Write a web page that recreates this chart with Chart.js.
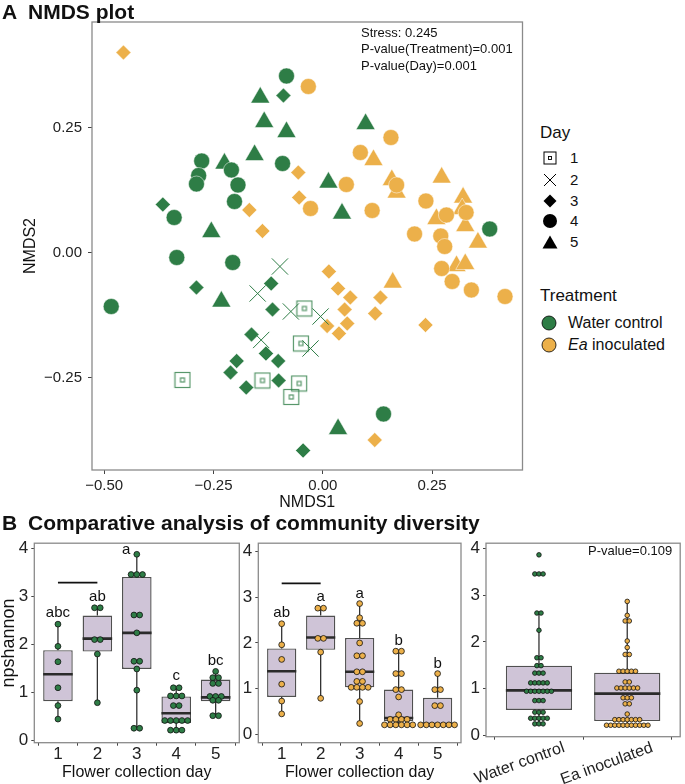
<!DOCTYPE html>
<html>
<head>
<meta charset="utf-8">
<script src="https://cdn.jsdelivr.net/npm/chart.js@4.4.1/dist/chart.umd.min.js"></script>
<style>
  body { margin: 0; width: 685px; height: 784px; position: relative; background: #fff; overflow: hidden;
         font-family: 'Liberation Sans', Arial, Helvetica, sans-serif; color: #111; }
  canvas { position: absolute; }
  .t { position: absolute; white-space: nowrap; }
  .b { font-weight: bold; font-size: 21px; line-height: 22px; }
</style>
</head>
<body>
<canvas id="nmds" width="535" height="515" style="left:0;top:0"></canvas>
<canvas id="water" width="245" height="254" style="left:0;top:530px"></canvas>
<canvas id="ea" width="228" height="254" style="left:238px;top:530px"></canvas>
<canvas id="both" width="265" height="254" style="left:420px;top:530px"></canvas>

<div class="t b" style="left:2px;top:1px">A</div>
<div class="t b" style="left:28px;top:1px">NMDS plot</div>
<div class="t b" style="left:2px;top:512px">B</div>
<div class="t b" style="left:28px;top:512px">Comparative analysis of community diversity</div>

<div class="t" style="left:361px;top:25px;font-size:13px;line-height:16px">Stress: 0.245</div>
<div class="t" style="left:361px;top:41px;font-size:13px;line-height:16px">P-value(Treatment)=0.001</div>
<div class="t" style="left:361px;top:58px;font-size:13px;line-height:16px">P-value(Day)=0.001</div>

<div id="legend"></div>
<div class="t" style="left:588px;top:543px;font-size:13px;line-height:16px">P-value=0.109</div>

<script>
// ---- panel A: NMDS coordinates [NMDS1, NMDS2] ----
const waterDay1 = [[-0.042,-0.112],[-0.050,-0.182],[-0.321,-0.255],[-0.138,-0.256],[-0.054,-0.262],[-0.072,-0.289]];
const waterDay2 = [[-0.098,-0.028],[-0.149,-0.082],[-0.073,-0.118],[-0.005,-0.128],[-0.141,-0.175],[-0.028,-0.192]];
const waterDay3 = [[-0.090,0.314],[-0.366,0.096],[-0.289,-0.070],[-0.118,-0.062],[-0.115,-0.114],[-0.163,-0.164],
  [-0.130,-0.202],[-0.102,-0.217],[-0.197,-0.217],[-0.211,-0.240],[-0.101,-0.256],[-0.175,-0.270],[-0.045,-0.396]];
const waterDay4 = [[-0.083,0.353],[-0.277,0.183],[-0.209,0.165],[-0.092,0.178],[-0.284,0.154],[-0.289,0.137],
  [-0.194,0.135],[-0.202,0.102],[-0.340,0.070],[-0.334,-0.010],[-0.206,-0.020],[-0.484,-0.108],[0.382,0.047],[0.139,-0.323]];
const waterDay5 = [[-0.143,0.310],[-0.134,0.261],[-0.083,0.241],[-0.156,0.195],[-0.225,0.178],[0.098,0.257],
  [0.013,0.140],[0.044,0.078],[-0.255,0.041],[-0.232,-0.098],[0.035,-0.353]];
const eaDay3 = [[-0.456,0.400],[-0.056,0.160],[-0.054,0.110],[-0.168,0.085],[-0.138,0.043],[0.014,-0.038],
  [0.035,-0.072],[0.063,-0.090],[0.050,-0.114],[0.132,-0.090],[0.120,-0.122],[0.010,-0.147],[0.056,-0.142],
  [0.037,-0.162],[0.235,-0.145],[0.119,-0.375]];
const eaDay4 = [[-0.033,0.332],[0.156,0.230],[0.086,0.200],[0.054,0.136],[-0.028,0.088],[0.113,0.084],[0.169,0.135],
  [0.236,0.103],[0.283,0.075],[0.328,0.080],[0.210,0.037],[0.270,0.033],[0.279,0.012],[0.272,-0.032],
  [0.296,-0.058],[0.340,-0.075],[0.417,-0.088]];
const eaDay5 = [[0.116,0.185],[0.158,0.145],[0.169,0.120],[0.272,0.150],[0.321,0.110],[0.319,0.087],[0.260,0.067],
  [0.326,0.053],[0.355,0.020],[0.306,-0.027],[0.326,-0.023],[0.160,-0.060]];
const nmdsXTicks = [-0.5, -0.25, 0, 0.25];
const nmdsYTicks = [-0.25, 0, 0.25];

// ---- panel B: npshannon by day ----
const days = ['1', '2', '3', '4', '5'];
const waterQ1  = [0.82, 1.85, 1.49, 0.37, 0.82];
const waterMed = [1.38, 2.12, 2.24, 0.57, 0.90];
const waterQ3  = [1.88, 2.60, 3.40, 0.92, 1.27];
const waterLo  = [0.45, 0.79, 0.26, 0.22, 0.52];
const waterHi  = [2.42, 2.76, 3.87, 1.10, 1.44];
const waterDots = [
  [2.42, 1.96, 1.64, 1.10, 0.73, 0.45],
  [2.76, 2.76, 2.10, 2.10, 1.80, 0.79],
  [3.87, 3.45, 3.45, 3.45, 2.61, 2.61, 2.24, 1.65, 1.65, 1.49, 1.05, 0.26, 0.26],
  [1.10, 1.10, 0.93, 0.93, 0.93, 0.73, 0.73, 0.42, 0.42, 0.42, 0.42, 0.42, 0.22, 0.22, 0.22],
  [1.44, 1.31, 1.31, 1.19, 1.19, 0.92, 0.92, 0.92, 0.84, 0.84, 0.52, 0.52]
];
const waterLetters = ['abc', 'ab', 'a', 'c', 'bc'];
const waterLetterX = [1, 2, 2.73, 4, 5];
const waterLetterY = [2.65, 2.99, 3.96, 1.34, 1.66];

const eaQ1  = [0.82, 1.85, 1.03, 0.29, 0.22];
const eaMed = [1.38, 2.12, 1.37, 0.36, 0.22];
const eaQ3  = [1.88, 2.60, 2.11, 0.98, 0.80];
const eaLo  = [0.45, 0.79, 0.24, 0.22, 0.22];
const eaHi  = [2.42, 2.76, 2.86, 1.82, 1.33];
const eaDots = [
  [2.42, 1.96, 1.64, 1.10, 0.73, 0.45],
  [2.76, 2.76, 2.10, 2.10, 1.80, 0.79],
  [2.86, 2.55, 2.43, 2.43, 2.00, 1.72, 1.72, 1.37, 1.37, 1.16, 1.16, 1.03, 1.03, 1.03, 1.03, 0.72, 0.24],
  [1.82, 1.82, 1.33, 1.33, 0.98, 0.98, 0.82, 0.43, 0.33, 0.33, 0.33, 0.33, 0.21, 0.21, 0.21, 0.21, 0.21, 0.21],
  [1.33, 0.98, 0.98, 0.63, 0.63, 0.21, 0.21, 0.21, 0.21, 0.21, 0.21, 0.21]
];
const eaLetters = ['ab', 'a', 'a', 'b', 'b'];
const eaLetterX = [1, 2, 3, 4, 5];
const eaLetterY = [2.65, 3.01, 3.08, 2.05, 1.55];
const sigLineY = [3.28, 3.30];   // bar over day 1-2, water / Ea

// ---- panel B: all days pooled ----
const treatments = ['Water control', 'Ea inoculated'];
const poolQ1  = [0.54, 0.30];
const poolMed = [0.96, 0.89];
const poolQ3  = [1.49, 1.34];
const poolLo  = [0.23, 0.21];
const poolHi  = [2.62, 2.87];
const poolDots = [
  [3.87, 3.46, 3.46, 3.46, 2.62, 2.62, 2.25, 1.66, 1.66, 1.49, 1.49, 1.33, 1.33, 1.33,
   1.12, 1.12, 1.12, 1.12, 1.12, 0.94, 0.94, 0.94, 0.94, 0.94, 0.94, 0.94, 0.74, 0.74, 0.74,
   0.49, 0.49, 0.49, 0.36, 0.36, 0.36, 0.36, 0.36, 0.24, 0.24, 0.24],
  [2.87, 2.57, 2.45, 2.45, 2.02, 1.88, 1.73, 1.73, 1.37, 1.37, 1.37, 1.37, 1.37, 1.14, 1.14,
   1.01, 1.01, 1.01, 1.01, 1.01, 1.01, 0.80, 0.80, 0.80, 0.67, 0.67, 0.45,
   0.33, 0.33, 0.33, 0.33, 0.33, 0.33, 0.33, 0.21, 0.21, 0.21, 0.21, 0.21, 0.21, 0.21, 0.21, 0.21, 0.21, 0.21]
];

const GREEN = '#2e7d46';
const ORANGE = '#ecb04a';
const FONT = "'Liberation Sans', Arial, Helvetica, sans-serif";

Chart.defaults.font.family = FONT;
Chart.defaults.color = '#1a1a1a';
Chart.defaults.animation = false;
Chart.defaults.responsive = false;
Chart.defaults.plugins.legend.display = false;
Chart.defaults.plugins.tooltip.enabled = false;

// grey panel border
const frame = {
  id: 'frame',
  afterDraw(chart) {
    const {ctx, chartArea: a} = chart;
    ctx.save();
    ctx.strokeStyle = '#8a8a8a';
    ctx.lineWidth = 1.3;
    ctx.strokeRect(a.left, a.top, a.right - a.left, a.bottom - a.top);
    ctx.restore();
  }
};

// significance letters above the boxes
const letters = {
  id: 'letters',
  afterDatasetsDraw(chart, args, opts) {
    if (!opts.text) return;
    const {ctx, scales: {x, y}} = chart;
    ctx.save();
    ctx.font = '15px ' + FONT;
    ctx.fillStyle = '#111';
    ctx.textAlign = 'center';
    ctx.textBaseline = 'middle';
    opts.text.forEach((t, i) => ctx.fillText(t, x.getPixelForValue(opts.x[i]), y.getPixelForValue(opts.y[i])));
    ctx.restore();
  }
};

function toXY(arr) { return arr.map(p => ({x: p[0], y: p[1]})); }

function squareIcon(color) {
  const c = document.createElement('canvas');
  c.width = c.height = 18;
  const g = c.getContext('2d');
  g.strokeStyle = color;
  g.lineWidth = 1.2;
  g.strokeRect(1.5, 1.5, 15, 15);
  g.strokeRect(7, 7, 4, 4);
  return c;
}

const fmt = v => (v < 0 ? '\u2212' : '') + Math.abs(v).toFixed(2);

new Chart(document.getElementById('nmds'), {
  type: 'scatter',
  data: {
    datasets: [
      {data: toXY(waterDay1), pointStyle: squareIcon('rgba(46,125,70,0.8)')},
      {data: toXY(waterDay2), pointStyle: 'crossRot', pointRadius: 11.5, borderColor: GREEN, borderWidth: 1},
      {data: toXY(eaDay3), pointStyle: 'rectRot', pointRadius: 7.5, backgroundColor: ORANGE, borderColor: '#fff', borderWidth: 0.5},
      {data: toXY(waterDay3), pointStyle: 'rectRot', pointRadius: 7.5, backgroundColor: GREEN, borderColor: '#fff', borderWidth: 0.5},
      {data: toXY(eaDay4), pointStyle: 'circle', pointRadius: 8, backgroundColor: ORANGE, borderColor: '#fff', borderWidth: 0.5},
      {data: toXY(waterDay4), pointStyle: 'circle', pointRadius: 8, backgroundColor: GREEN, borderColor: '#fff', borderWidth: 0.5},
      {data: toXY(eaDay5), pointStyle: 'triangle', pointRadius: 11, backgroundColor: ORANGE, borderColor: '#fff', borderWidth: 0.5},
      {data: toXY(waterDay5), pointStyle: 'triangle', pointRadius: 11, backgroundColor: GREEN, borderColor: '#fff', borderWidth: 0.5}
    ]
  },
  options: {
    layout: {padding: {top: 22, right: 10, left: 0, bottom: 0}},
    scales: {
      x: {
        type: 'linear', min: -0.528, max: 0.457,
        afterBuildTicks: s => { s.ticks = nmdsXTicks.map(v => ({value: v})); },
        afterFit: s => { s.height = 45; },
        ticks: {callback: fmt, font: {size: 15}, color: '#222', padding: 3},
        grid: {drawOnChartArea: false, tickLength: 4, tickColor: '#444'},
        border: {display: false},
        title: {display: true, text: 'NMDS1', font: {size: 16}, color: '#111', padding: {top: 0, bottom: 3}}
      },
      y: {
        type: 'linear', min: -0.435, max: 0.461,
        afterBuildTicks: s => { s.ticks = nmdsYTicks.map(v => ({value: v})); },
        afterFit: s => { s.width = 92; },
        ticks: {callback: fmt, font: {size: 15}, color: '#222', padding: 6},
        grid: {drawOnChartArea: false, tickLength: 4, tickColor: '#444'},
        border: {display: false},
        title: {display: true, text: 'NMDS2', font: {size: 16}, color: '#111', padding: {top: 21, bottom: 0}}
      }
    }
  },
  plugins: [frame]
});

// centred dot stacks: equal values are spread sideways
function dotPoints(groups, step) {
  const pts = [];
  groups.forEach((vals, i) => {
    const counts = new Map();
    vals.forEach(v => counts.set(v, (counts.get(v) || 0) + 1));
    counts.forEach((n, v) => {
      for (let j = 0; j < n; j++) pts.push({x: i + 1 + (j - (n - 1) / 2) * step, y: v});
    });
  });
  return pts;
}

function boxChart(id, o) {
  const boxes = o.q1.map((q, i) => ({x: i + 1, y: [q, o.q3[i]]}));
  const whisk = [];
  o.q1.forEach((q, i) => {
    const c = i + 1;
    whisk.push({x: c, y: o.lo[i]}, {x: c, y: q}, {x: c, y: null},
               {x: c, y: o.q3[i]}, {x: c, y: o.hi[i]}, {x: c, y: null});
  });
  const meds = [];
  o.med.forEach((m, i) => {
    const c = i + 1;
    meds.push({x: c - 0.375, y: m}, {x: c + 0.375, y: m}, {x: c, y: null});
  });
  const datasets = [
    {type: 'scatter', data: dotPoints(o.dots, o.step), pointRadius: o.dotR, backgroundColor: o.color,
     borderColor: '#111', borderWidth: 0.8, order: 0},
    {type: 'line', data: meds, borderColor: '#2b2b2b', borderWidth: 2.6, pointRadius: 0, order: 1},
    {type: 'bar', data: boxes, backgroundColor: '#cfc4d7', borderColor: '#505050', borderWidth: 1.4,
     borderSkipped: false, barPercentage: 0.75, categoryPercentage: 1, order: 2},
    {type: 'line', data: whisk, borderColor: '#333', borderWidth: 1.3, pointRadius: 0, order: 3}
  ];
  if (o.sig !== undefined) {
    datasets.push({type: 'line', data: [{x: 1, y: o.sig}, {x: 2, y: o.sig}], borderColor: '#111',
                   borderWidth: 1.8, pointRadius: 0, order: 1});
  }
  return new Chart(document.getElementById(id), {
    type: 'bar',
    data: {datasets},
    options: {
      layout: {padding: {top: o.padTop, right: o.padRight, left: 0, bottom: 0}},
      plugins: {letters: {text: o.letters, x: o.letterX, y: o.letterY}},
      scales: {
        x: {
          type: 'linear', min: 0.4, max: o.labels.length + 0.6, offset: false,
          afterBuildTicks: s => { s.ticks = o.labels.map((_, i) => ({value: i + 1})); },
          afterFit: s => { s.height = o.xh; },
          ticks: {callback: v => o.labels[v - 1], autoSkip: false, font: {size: o.xFont, lineHeight: 1},
                  color: '#222', padding: 0, minRotation: o.rot, maxRotation: o.rot, labelOffset: o.labelOffset},
          grid: {drawOnChartArea: false, tickLength: 3, tickColor: '#444'},
          border: {display: false},
          title: o.xTitle ? {display: true, text: o.xTitle, font: {size: 16}, color: '#111', padding: {top: 0, bottom: 2}}
                          : {display: false}
        },
        y: {
          type: 'linear', min: o.ymin, max: o.ymax,
          afterBuildTicks: s => { s.ticks = [0, 1, 2, 3, 4].map(v => ({value: v})); },
          afterFit: s => { s.width = o.yw; },
          ticks: {callback: v => String(v), font: {size: 17}, color: '#222', padding: 3},
          grid: {drawOnChartArea: false, tickLength: 3, tickColor: '#444'},
          border: {display: false},
          title: o.yTitle ? {display: true, text: o.yTitle, font: {size: 18, lineHeight: 1}, color: '#111', padding: {top: 0, bottom: 0}}
                          : {display: false}
        }
      }
    },
    plugins: [frame, letters]
  });
}

boxChart('water', {
  labels: days, q1: waterQ1, med: waterMed, q3: waterQ3, lo: waterLo, hi: waterHi, dots: waterDots,
  color: GREEN, step: 0.145, dotR: 2.9, sig: sigLineY[0],
  letters: waterLetters, letterX: waterLetterX, letterY: waterLetterY,
  ymin: -0.04, ymax: 4.1, padTop: 10.7, padRight: 5.7, yw: 34.3, xh: 41.3,
  xFont: 17, rot: 0, labelOffset: 0, xTitle: 'Flower collection day', yTitle: 'npshannon'
});

boxChart('ea', {
  labels: days, q1: eaQ1, med: eaMed, q3: eaQ3, lo: eaLo, hi: eaHi, dots: eaDots,
  color: ORANGE, step: 0.145, dotR: 2.9, sig: sigLineY[1],
  letters: eaLetters, letterX: eaLetterX, letterY: eaLetterY,
  ymin: -0.18, ymax: 4.18, padTop: 10.7, padRight: 5, yw: 20.3, xh: 41.3,
  xFont: 17, rot: 0, labelOffset: 0, xTitle: 'Flower collection day'
});

boxChart('both', {
  labels: treatments, q1: poolQ1, med: poolMed, q3: poolQ3, lo: poolLo, hi: poolHi, dots: poolDots,
  color: [], step: 0.047, dotR: 2.3,
  ymin: -0.036, ymax: 4.12, padTop: 10, padRight: 1.7, yw: 66, xh: 47.3,
  xFont: 16, rot: 20, labelOffset: 25
});
// colour the pooled dots by treatment
(function () {
  const ch = Chart.getChart('both');
  const ds = ch.data.datasets[0];
  ds.backgroundColor = ds.data.map(p => (p.x < 1.5 ? GREEN : ORANGE));
  ch.update();
})();

// ---- legend for panel A ----
const dayKeys = [
  '<rect x="2" y="2" width="12" height="12" fill="none" stroke="#000" stroke-width="1"/><rect x="6.5" y="6.5" width="3" height="3" fill="none" stroke="#000" stroke-width="0.9"/>',
  '<path d="M2 2L14 14M14 2L2 14" stroke="#000" stroke-width="1"/>',
  '<path d="M8 1.5L14.5 8L8 14.5L1.5 8Z" fill="#000"/>',
  '<circle cx="8" cy="8" r="7" fill="#000"/>',
  '<path d="M8 1.5L15.5 14.5L0.5 14.5Z" fill="#000"/>'
];
const legendRows = [158, 179.5, 200.5, 221, 241.5];
let html = '<div class="t" style="left:540px;top:123px;font-size:17px;line-height:20px">Day</div>';
days.forEach((d, i) => {
  const cy = legendRows[i];
  html += `<svg class="t" style="left:542px;top:${cy - 8}px" width="16" height="16">${dayKeys[i]}</svg>`;
  html += `<div class="t" style="left:570px;top:${cy - 9}px;font-size:15px;line-height:18px">${d}</div>`;
});
html += '<div class="t" style="left:540px;top:286px;font-size:17px;line-height:20px">Treatment</div>';
[[323, GREEN, 'Water control'], [345, ORANGE, '<i>Ea</i> inoculated']].forEach(([cy, col, txt]) => {
  html += `<svg class="t" style="left:541px;top:${cy - 8}px" width="16" height="16"><circle cx="8" cy="8" r="7" fill="${col}" stroke="#000" stroke-width="0.8"/></svg>`;
  html += `<div class="t" style="left:568px;top:${cy - 10}px;font-size:16px;line-height:20px">${txt}</div>`;
});
document.getElementById('legend').innerHTML = html;
</script>
</body>
</html>
